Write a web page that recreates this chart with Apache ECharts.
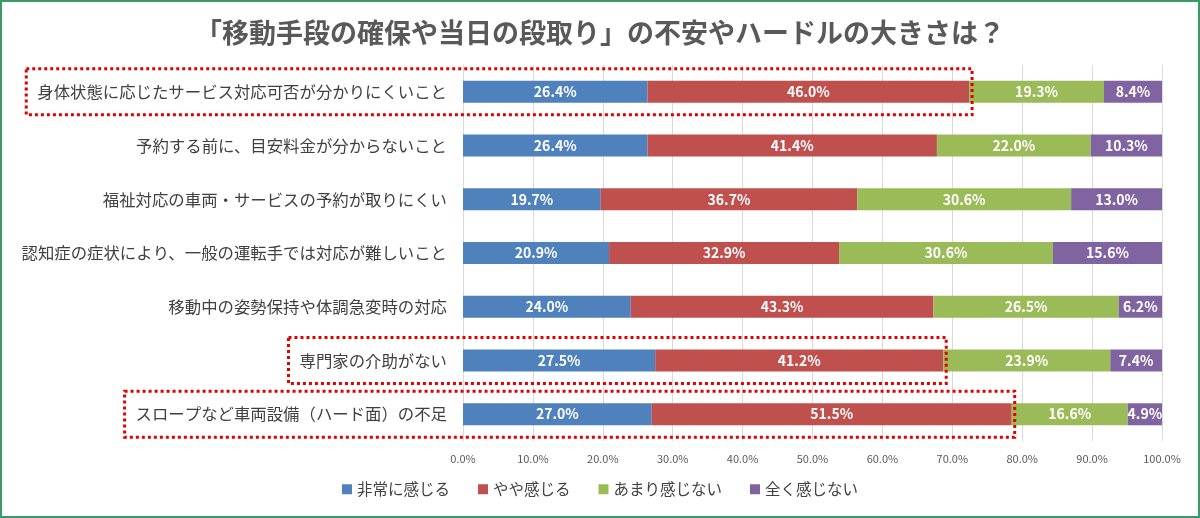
<!DOCTYPE html>
<html lang="ja">
  <head>
    <meta charset="utf-8">
    <script src="https://cdn.jsdelivr.net/npm/echarts@6/dist/echarts.min.js"></script>
    <style>
      html, body { margin: 0; padding: 0; background: #fff; }
      #chart { width: 1196px; height: 514px; border: 2px solid #3a9a6a; }
    </style>
  </head>
  <body>
    <div id="chart"></div>
    <script>
      // 項目（上から順）
      const categories = [
        '身体状態に応じたサービス対応可否が分かりにくいこと',
        '予約する前に、目安料金が分からないこと',
        '福祉対応の車両・サービスの予約が取りにくい',
        '認知症の症状により、一般の運転手では対応が難しいこと',
        '移動中の姿勢保持や体調急変時の対応',
        '専門家の介助がない',
        'スロープなど車両設備（ハード面）の不足'
      ];

      // 回答の割合（%）
      const hijouni = [26.4, 26.4, 19.7, 20.9, 24.0, 27.5, 27.0];
      const yaya = [46.0, 41.4, 36.7, 32.9, 43.3, 41.2, 51.5];
      const amari = [19.3, 22.0, 30.6, 30.6, 26.5, 23.9, 16.6];
      const mattaku = [8.4, 10.3, 13.0, 15.6, 6.2, 7.4, 4.9];

      const seriesNames = ['非常に感じる', 'やや感じる', 'あまり感じない', '全く感じない'];
      const seriesColors = ['#4f81bd', '#c0504d', '#9bbb59', '#8064a2'];

      // 赤い点線で囲む項目
      const highlighted = [0, 5, 6];

      const FONT = '"Noto Sans CJK JP", "Noto Sans", sans-serif';
      const LABEL_SIZE = 16.4;

      const chart = echarts.init(document.getElementById('chart'));

      function makeSeries(name, data, color) {
        return {
          name: name,
          type: 'bar',
          stack: 'total',
          barWidth: 22,
          data: data,
          itemStyle: { color: color },
          label: {
            show: true,
            color: '#fff',
            fontWeight: 'bold',
            fontSize: 14,
            fontFamily: FONT,
            formatter: function (p) { return p.value.toFixed(1) + '%'; }
          }
        };
      }

      const option = {
        animation: false,
        textStyle: { fontFamily: FONT },
        title: {
          text: '「移動手段の確保や当日の段取り」の不安やハードルの大きさは？',
          left: 'center',
          top: 12,
          textStyle: { fontSize: 27, fontWeight: 'bold', color: '#595959', fontFamily: FONT }
        },
        legend: {
          bottom: 14,
          left: 'center',
          itemWidth: 10,
          itemHeight: 10,
          itemGap: 28,
          icon: 'rect',
          textStyle: { fontSize: 15.5, color: '#404040', fontFamily: FONT }
        },
        grid: { left: 461, right: 36, top: 63, bottom: 75 },
        xAxis: {
          type: 'value',
          min: 0,
          max: 100,
          interval: 10,
          axisLine: { show: false },
          axisTick: { show: false },
          splitLine: { lineStyle: { color: '#d9d9d9' } },
          axisLabel: {
            color: '#595959',
            fontSize: 11,
            margin: 12,
            formatter: function (v) { return v.toFixed(1) + '%'; }
          }
        },
        yAxis: {
          type: 'category',
          inverse: true,
          data: categories,
          axisLine: { show: true, lineStyle: { color: '#d9d9d9' } },
          axisTick: { show: false },
          axisLabel: { color: '#404040', fontSize: LABEL_SIZE, margin: 16, fontFamily: FONT }
        },
        series: [
          makeSeries(seriesNames[0], hijouni, seriesColors[0]),
          makeSeries(seriesNames[1], yaya, seriesColors[1]),
          makeSeries(seriesNames[2], amari, seriesColors[2]),
          makeSeries(seriesNames[3], mattaku, seriesColors[3])
        ]
      };
      chart.setOption(option);

      // 点線の囲み：項目ラベルから「やや感じる」の端まで
      const ctx = document.createElement('canvas').getContext('2d');
      ctx.font = LABEL_SIZE + 'px ' + FONT;
      const boxes = highlighted.map(function (i) {
        const textW = ctx.measureText(categories[i]).width;
        const origin = chart.convertToPixel({ gridIndex: 0 }, [0, i]);
        const end = chart.convertToPixel({ gridIndex: 0 }, [hijouni[i] + yaya[i], i]);
        const x0 = origin[0] - 16 - textW - 11;
        const x1 = end[0] + 3;
        return {
          type: 'rect',
          shape: { x: x0, y: origin[1] - 23, width: x1 - x0, height: 46 },
          style: { fill: 'none', stroke: '#e00000', lineWidth: 3, lineDash: [3, 3] },
          z: 100
        };
      });
      chart.setOption({ graphic: boxes });
    </script>
  </body>
</html>
